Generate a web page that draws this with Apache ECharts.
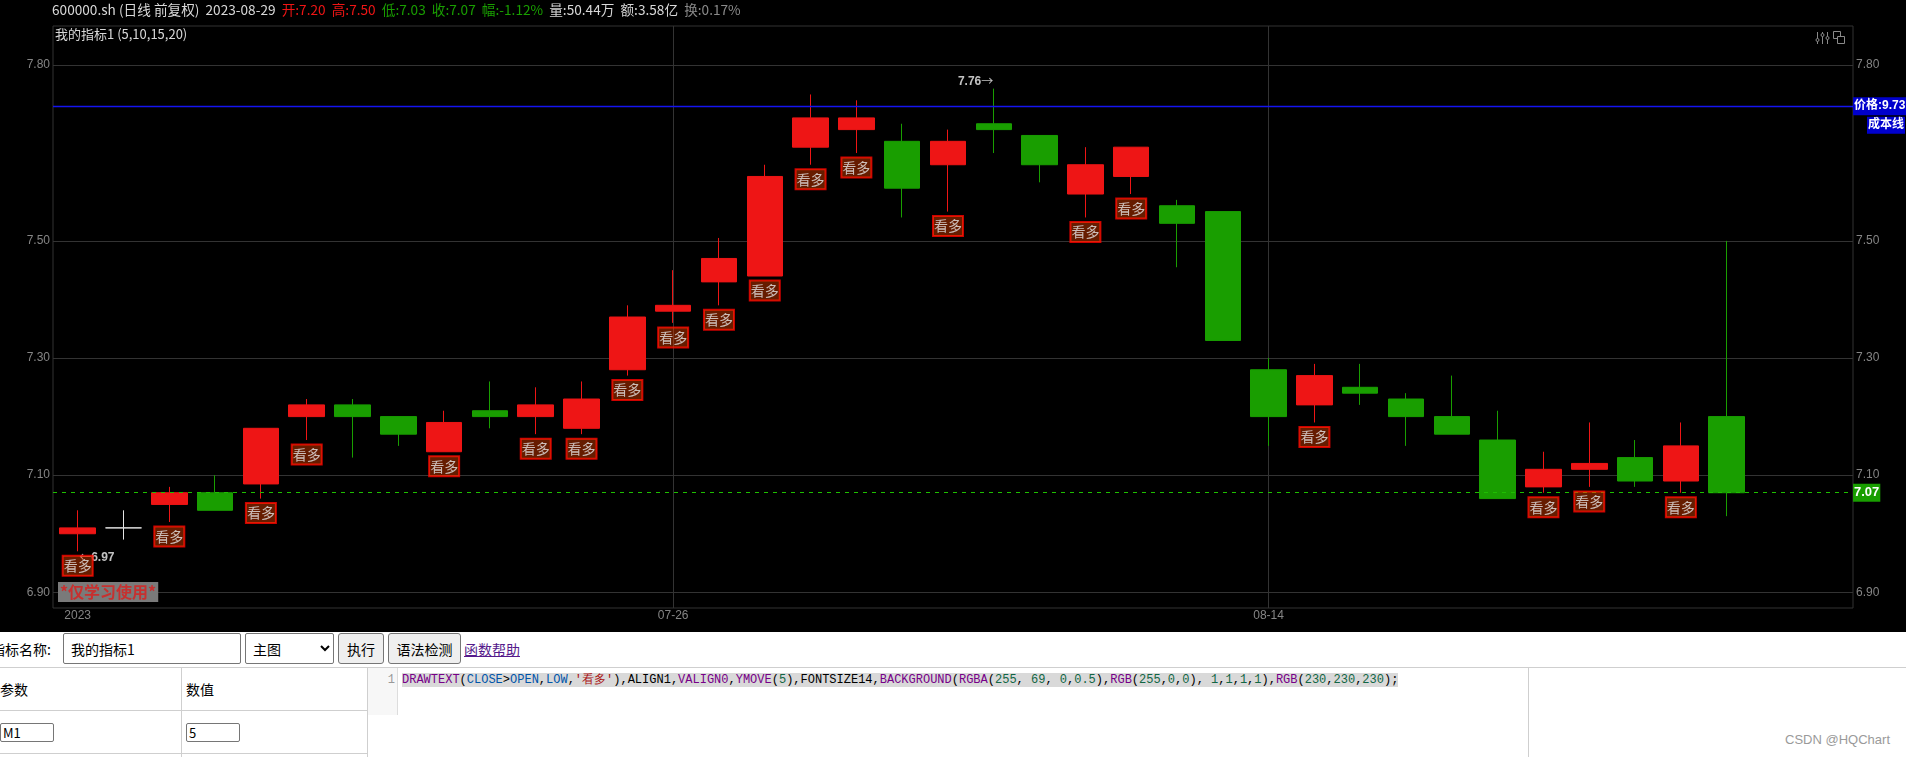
<!DOCTYPE html>
<html>
<head>
<meta charset="utf-8">
<script src="https://cdn.jsdelivr.net/npm/echarts@6.0.0/dist/echarts.min.js"></script>
<style>
  html, body { margin:0; padding:0; background:#fff; width:1906px; height:757px; overflow:hidden; }
  #chart { position:absolute; left:0; top:0; width:1906px; height:632px; background:#000; }
  .a { position:absolute; box-sizing:border-box; font-family:"Noto Sans CJK SC", sans-serif; font-size:14px; color:#000; margin:0; }
  input.a, select.a { border:1px solid #767676; border-radius:2px; background:#fff; padding:0 7px; font-size:14px; font-family:"Noto Sans CJK SC", sans-serif; }
  button.a { border:1px solid #767676; border-radius:3px; background:#efefef; padding:0; font-size:14px; }
  .code { font-family:"Liberation Mono", monospace; font-size:12px; line-height:17px; white-space:pre; color:#000; }
  .hl { background:#d9d9d9; }
  .kw { color:#708; } .v { color:#05a; } .s { color:#a11; } .n { color:#164; }
</style>
</head>
<body>
<div id="chart"></div>

<div class="a" style="left:-9px;top:639px;line-height:20px;">指标名称:</div>
<input class="a" style="left:63px;top:633px;width:178px;height:31px;" value="我的指标1">
<select class="a" style="left:245px;top:633px;width:89px;height:31px;padding:0 3px;"><option>主图</option></select>
<button class="a" style="left:338px;top:633px;width:46px;height:31px;">执行</button>
<button class="a" style="left:388px;top:633px;width:73px;height:31px;">语法检测</button>
<a class="a" style="left:464px;top:639px;line-height:20px;color:#551a8b;text-decoration:underline;">函数帮助</a>

<div class="a" style="left:0;top:667px;width:1906px;height:1px;background:#cfcfcf;"></div>
<div class="a" style="left:181px;top:667px;width:1px;height:90px;background:#cfcfcf;"></div>
<div class="a" style="left:367px;top:667px;width:1px;height:90px;background:#cfcfcf;"></div>
<div class="a" style="left:1528px;top:667px;width:1px;height:90px;background:#cfcfcf;"></div>
<div class="a" style="left:0;top:710px;width:367px;height:1px;background:#cfcfcf;"></div>
<div class="a" style="left:0;top:753px;width:367px;height:1px;background:#cfcfcf;"></div>
<div class="a" style="left:0;top:679px;line-height:20px;">参数</div>
<div class="a" style="left:186px;top:679px;line-height:20px;">数值</div>
<input class="a" style="left:0;top:723px;width:54px;height:19px;padding:0 2px;font-size:13px;" value="M1">
<input class="a" style="left:186px;top:723px;width:54px;height:19px;padding:0 2px;font-size:13px;" value="5">

<div class="a" style="left:368px;top:668px;width:30px;height:47px;background:#f7f7f7;border-right:1px solid #ddd;"></div>
<div class="a code" style="left:368px;top:672px;width:27px;text-align:right;color:#999;">1</div>
<div class="a code" style="left:402px;top:672px;"><span class="hl"><span class="kw">DRAWTEXT</span>(<span class="v">CLOSE</span>&gt;<span class="v">OPEN</span>,<span class="v">LOW</span>,<span class="s">'看多'</span>),ALIGN1,<span class="kw">VALIGN0</span>,<span class="kw">YMOVE</span>(<span class="n">5</span>),FONTSIZE14,<span class="kw">BACKGROUND</span>(<span class="kw">RGBA</span>(<span class="n">255</span>, <span class="n">69</span>, <span class="n">0</span>,<span class="n">0.5</span>),<span class="kw">RGB</span>(<span class="n">255</span>,<span class="n">0</span>,<span class="n">0</span>), <span class="n">1</span>,<span class="n">1</span>,<span class="n">1</span>,<span class="n">1</span>),<span class="kw">RGB</span>(<span class="n">230</span>,<span class="n">230</span>,<span class="n">230</span>);</span></div>

<div class="a" style="left:1700px;top:732px;width:190px;text-align:right;font-family:'Liberation Sans',Arial,sans-serif;font-size:13px;line-height:16px;color:#9a9a9a;">CSDN @HQChart</div>

<script>
// ---------------- data ----------------
const dates = [
  '2023-07-07','2023-07-10','2023-07-11','2023-07-12','2023-07-13','2023-07-14','2023-07-17','2023-07-18',
  '2023-07-19','2023-07-20','2023-07-21','2023-07-24','2023-07-25','2023-07-26','2023-07-27','2023-07-28',
  '2023-07-31','2023-08-01','2023-08-02','2023-08-03','2023-08-04','2023-08-07','2023-08-08','2023-08-09',
  '2023-08-10','2023-08-11','2023-08-14','2023-08-15','2023-08-16','2023-08-17','2023-08-18','2023-08-21',
  '2023-08-22','2023-08-23','2023-08-24','2023-08-25','2023-08-28'
];
const openPrices  = [7.00,7.01,7.05,7.07,7.085,7.20,7.22,7.20,7.14,7.21,7.20,7.18,7.28,7.38,7.43,7.44,7.66,7.69,7.67,7.63,7.70,7.68,7.58,7.61,7.56,7.55,7.28,7.22,7.25,7.23,7.20,7.16,7.08,7.11,7.13,7.09,7.20];
const closePrices = [7.01,7.01,7.07,7.04,7.18,7.22,7.20,7.17,7.19,7.20,7.22,7.23,7.37,7.39,7.47,7.61,7.71,7.71,7.59,7.67,7.69,7.63,7.63,7.66,7.53,7.33,7.20,7.27,7.24,7.20,7.17,7.06,7.11,7.12,7.09,7.15,7.07];
const lowPrices   = [6.97,6.99,7.02,7.04,7.06,7.16,7.13,7.15,7.14,7.18,7.17,7.17,7.27,7.36,7.39,7.44,7.63,7.65,7.54,7.55,7.65,7.60,7.54,7.58,7.455,7.33,7.15,7.19,7.22,7.15,7.17,7.06,7.07,7.08,7.08,7.07,7.03];
const highPrices  = [7.04,7.04,7.08,7.10,7.18,7.23,7.23,7.20,7.21,7.26,7.25,7.26,7.39,7.45,7.505,7.63,7.75,7.74,7.70,7.69,7.76,7.68,7.66,7.66,7.57,7.55,7.30,7.29,7.29,7.24,7.27,7.21,7.14,7.19,7.16,7.19,7.50];

const yTicks = [6.90, 7.10, 7.30, 7.50, 7.80];
const xLabelDates = ['2023-07-07', '2023-07-26', '2023-08-14'];
const xGridDates = ['2023-07-26', '2023-08-14'];

const costLinePrice = 7.73;
const costLineLabel = '价格:9.73';
const costLineName = '成本线';
const signalText = '看多';

const symbolName = '600000.sh';
const periodName = '(日线 前复权)';
const headerDate = '2023-08-29';
const volumeText = '50.44万';
const amountText = '3.58亿';
const turnoverText = '0.17%';
const indicatorTitle = '我的指标1 (5,10,15,20)';
const watermarkText = '*仅学习使用*';

// ---------------- styles ----------------
const UP = 'rgb(238,21,21)';
const DOWN = 'rgb(25,158,0)';
const FLAT = 'rgb(228,228,228)';
const GRID = '#333333';
const AXIS_TEXT = '#858585';
const CJK = '"Noto Sans CJK SC", sans-serif';
const HF = 13.65;

const N = dates.length;
const last = N - 1;
const prevClose = closePrices[last - 1];
const o = openPrices[last], h = highPrices[last], l = lowPrices[last], c = closePrices[last];
const chg = (c - prevClose) / prevClose * 100;
const cf = v => v > prevClose ? 'r' : (v < prevClose ? 'g' : 'w');

const headerText =
  `{w|${symbolName} ${periodName}  ${headerDate}}  ` +
  `{${cf(o)}|开:${o.toFixed(2)}}  {${cf(h)}|高:${h.toFixed(2)}}  ` +
  `{${cf(l)}|低:${l.toFixed(2)}}  {${cf(c)}|收:${c.toFixed(2)}}  ` +
  `{${chg > 0 ? 'r' : (chg < 0 ? 'g' : 'w')}|幅:${chg.toFixed(2)}%}  ` +
  `{w|量:${volumeText}}  {w|额:${amountText}}  {d|换:${turnoverText}}`;

const Y_MIN = 6.8732, Y_MAX = 7.8669;
const X_MIN = -0.539, X_MAX = 38.758;

const candleData = dates.map((d, i) => {
  const item = { value: [i, openPrices[i], closePrices[i], lowPrices[i], highPrices[i]] };
  if (openPrices[i] === closePrices[i]) {
    item.itemStyle = { color: FLAT, color0: FLAT, borderColor: FLAT, borderColor0: FLAT, borderColorDoji: FLAT };
  }
  return item;
});

const signalData = [];
dates.forEach((d, i) => { if (closePrices[i] > openPrices[i]) signalData.push([i, lowPrices[i]]); });

let maxIdx = 0, minIdx = 0;
highPrices.forEach((v, i) => { if (v > highPrices[maxIdx]) maxIdx = i; });
lowPrices.forEach((v, i) => { if (v < lowPrices[minIdx]) minIdx = i; });

const xLabelIdx = xLabelDates.map(d => dates.indexOf(d));
const lastColor = c > prevClose ? UP : (c < prevClose ? DOWN : FLAT);

const chart = echarts.init(document.getElementById('chart'), null, { renderer: 'canvas' });

const extremeRich = {
  n: { color: '#f2f2f2', fontSize: 12, fontWeight: 'bold', fontFamily: 'Arial, "Liberation Sans"' },
  a: { color: '#f2f2f2', fontSize: 12, fontFamily: '"Noto Sans CJK SC"' }
};

const option = {
  backgroundColor: '#000',
  animation: false,
  title: [
    {
      text: headerText, left: 52, top: 3, padding: 0,
      textStyle: {
        fontSize: HF, fontFamily: CJK, fontWeight: 'normal',
        rich: {
          w: { color: '#d8d8d8', fontSize: HF, fontFamily: CJK },
          r: { color: UP, fontSize: HF, fontFamily: CJK },
          g: { color: DOWN, fontSize: HF, fontFamily: CJK },
          d: { color: '#8a8a8a', fontSize: HF, fontFamily: CJK }
        }
      }
    },
    {
      text: indicatorTitle, left: 55, top: 28, padding: 0,
      textStyle: { fontSize: 13, fontFamily: CJK, color: '#d8d8d8', fontWeight: 'normal' }
    }
  ],
  grid: {
    left: 53, right: 53, top: 26, bottom: 24,
    show: true, borderColor: GRID, borderWidth: 1, backgroundColor: 'transparent',
    outerBoundsMode: 'none', containLabel: false
  },
  xAxis: {
    type: 'value', min: X_MIN, max: X_MAX,
    axisLine: { show: false }, axisTick: { show: false }, splitLine: { show: false },
    axisLabel: {
      customValues: xLabelIdx,
      color: AXIS_TEXT, fontSize: 12, fontFamily: 'Arial, "Liberation Sans"', margin: 2,
      formatter: v => {
        const i = Math.round(v);
        return i === xLabelIdx[0] ? dates[i].slice(0, 4) : dates[i].slice(5);
      }
    }
  },
  yAxis: [0, 1].map(k => ({
    type: 'value', position: k ? 'right' : 'left', min: Y_MIN, max: Y_MAX, scale: true,
    axisLine: { show: false }, axisTick: { show: false }, splitLine: { show: false },
    axisLabel: {
      customValues: yTicks, formatter: v => v.toFixed(2),
      color: AXIS_TEXT, fontSize: 12, fontFamily: 'Arial, "Liberation Sans"', margin: 3
    }
  })),
  series: [
    {
      name: 'grid', type: 'line', data: [], silent: true, z: 1,
      markLine: {
        z: 1, silent: true, symbol: ['none', 'none'], animation: false,
        label: { show: false },
        lineStyle: { color: GRID, width: 1, type: 'solid' },
        data: [
          ...yTicks.map(v => ({ yAxis: v })),
          ...xGridDates.map(d => ({ xAxis: dates.indexOf(d) }))
        ]
      }
    },
    {
      name: 'kline', type: 'candlestick', z: 2, barWidth: 36,
      data: candleData,
      itemStyle: { color: UP, color0: DOWN, borderColor: UP, borderColor0: DOWN, borderWidth: 1 }
    },
    {
      name: 'lines', type: 'line', data: [], silent: true, z: 5,
      markLine: {
        z: 5, silent: true, symbol: ['none', 'none'], animation: false,
        label: { show: false },
        data: [
          { yAxis: costLinePrice, lineStyle: { color: '#1414f0', width: 1.3, type: 'solid' } },
          { yAxis: c, lineStyle: { color: 'rgb(30,190,0)', width: 1.2, type: [4, 5] } }
        ]
      }
    },
    {
      name: 'extreme', type: 'scatter', z: 4, symbolSize: 1, silent: true,
      itemStyle: { color: 'transparent' },
      label: { show: true, distance: 0, rich: extremeRich },
      data: [
        { value: [maxIdx, highPrices[maxIdx]], label: { position: 'left', offset: [0, -7], formatter: `{n|${highPrices[maxIdx].toFixed(2)}}{a|→}` } },
        { value: [minIdx, lowPrices[minIdx]], label: { position: 'right', offset: [1, 6], formatter: `{a|←}{n|${lowPrices[minIdx].toFixed(2)}}` } }
      ]
    },
    {
      name: 'signal', type: 'scatter', z: 6, symbolSize: 1, silent: true,
      itemStyle: { color: 'transparent' },
      data: signalData,
      label: {
        show: true, position: 'bottom', distance: 4, formatter: signalText,
        color: 'rgb(230,230,230)', fontSize: 14, fontFamily: CJK, lineHeight: 16,
        backgroundColor: 'rgba(255,69,0,0.5)', borderColor: 'rgb(255,0,0)', borderWidth: 1,
        padding: [2, 1, 2, 1]
      }
    }
  ]
};
chart.setOption(option);

// price tags on the right axis, placed with the chart's own scales
const rightX = chart.convertToPixel({ xAxisIndex: 0 }, X_MAX);
const yCost = chart.convertToPixel({ yAxisIndex: 0 }, costLinePrice);
const yLast = chart.convertToPixel({ yAxisIndex: 0 }, c);
const W = chart.getWidth();
const tagFont = 'bold 12px Arial, "Liberation Sans", "Noto Sans CJK SC"';

chart.setOption({
  graphic: [
    { type: 'text', z: 50, x: rightX, y: yCost,
      style: { text: costLineLabel, fill: '#fff', backgroundColor: '#0000cd', padding: [3, 1, 3, 1], lineHeight: 12,
               font: tagFont, align: 'left', verticalAlign: 'middle' } },
    { type: 'text', z: 50, x: W - 1, y: yCost + 19,
      style: { text: costLineName, fill: '#fff', backgroundColor: '#0000cd', padding: [3, 1, 2, 1], lineHeight: 12,
               font: tagFont, align: 'right', verticalAlign: 'middle' } },
    { type: 'text', z: 50, x: rightX, y: yLast,
      style: { text: c.toFixed(2), fill: '#fff', backgroundColor: lastColor, padding: [3, 1, 3, 1], lineHeight: 12,
               font: 'bold 13px Arial, "Liberation Sans"', align: 'left', verticalAlign: 'middle' } },
    { type: 'text', z: 60, left: 58, top: 582,
      style: { text: watermarkText, fill: '#c8302f', backgroundColor: '#7a7a7a', padding: [2, 2, 2, 2], lineHeight: 16,
               font: 'bold 16px "Noto Sans CJK SC"' } },
    // toolbar icons (top right)
    { type: 'group', z: 60, children: [
      { type: 'line', shape: { x1: 1817.5, y1: 32, x2: 1817.5, y2: 44 }, style: { stroke: '#8a8a8a', lineWidth: 1 } },
      { type: 'line', shape: { x1: 1822.5, y1: 32, x2: 1822.5, y2: 44 }, style: { stroke: '#8a8a8a', lineWidth: 1 } },
      { type: 'line', shape: { x1: 1827.5, y1: 32, x2: 1827.5, y2: 44 }, style: { stroke: '#8a8a8a', lineWidth: 1 } },
      { type: 'circle', shape: { cx: 1817.5, cy: 40, r: 1.5 }, style: { fill: '#000', stroke: '#8a8a8a' } },
      { type: 'circle', shape: { cx: 1822.5, cy: 35, r: 1.5 }, style: { fill: '#000', stroke: '#8a8a8a' } },
      { type: 'circle', shape: { cx: 1827.5, cy: 38, r: 1.5 }, style: { fill: '#000', stroke: '#8a8a8a' } },
      { type: 'rect', shape: { x: 1833.5, y: 31.5, width: 7, height: 7 }, style: { fill: 'none', stroke: '#8a8a8a' } },
      { type: 'rect', shape: { x: 1837.5, y: 36.5, width: 7, height: 7 }, style: { fill: '#000', stroke: '#8a8a8a' } }
    ]}
  ]
});
</script>
</body>
</html>
